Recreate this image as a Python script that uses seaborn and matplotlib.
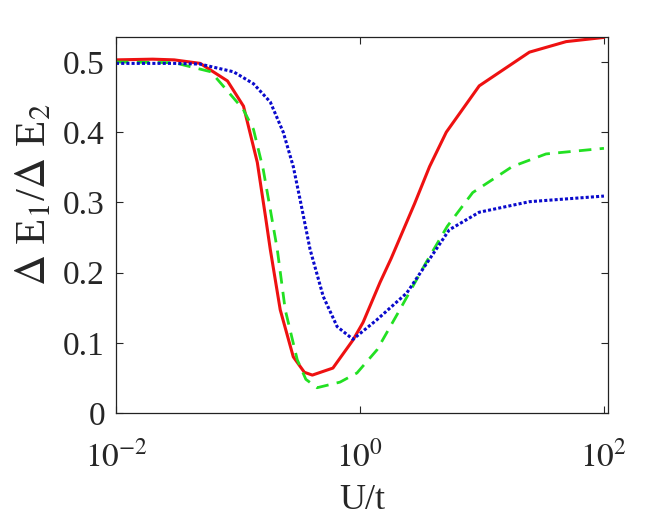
import matplotlib
matplotlib.use("Agg")
import matplotlib.pyplot as plt
import seaborn as sns
import pandas as pd

# ---- data ----
red_x = [0.01, 0.02, 0.03, 0.049, 0.082, 0.111, 0.144, 0.168, 0.184, 0.222, 0.284, 0.35, 0.407, 0.6, 0.877, 1.06, 1.46, 1.8, 2.8, 3.72, 5.1, 9.5, 24.5, 49, 100]
red_y = [0.503, 0.504, 0.503, 0.498, 0.473, 0.437, 0.357, 0.28, 0.233, 0.147, 0.08, 0.058, 0.054, 0.064, 0.104, 0.129, 0.186, 0.22, 0.298, 0.351, 0.40, 0.466, 0.514, 0.529, 0.535]

green_x = [0.01, 0.03, 0.06, 0.11, 0.134, 0.161, 0.184, 0.21, 0.244, 0.306, 0.36, 0.445, 0.687, 0.945, 1.38, 2.12, 3.5, 5.2, 8.4, 17.7, 33.5, 100]
green_y = [0.5, 0.499, 0.486, 0.433, 0.404, 0.347, 0.29, 0.233, 0.147, 0.076, 0.048, 0.036, 0.044, 0.057, 0.09, 0.147, 0.215, 0.266, 0.314, 0.351, 0.369, 0.377]

blue_x = [0.01, 0.03, 0.049, 0.092, 0.134, 0.184, 0.235, 0.284, 0.323, 0.39, 0.5, 0.65, 0.877, 1.38, 2.42, 3.95, 5.4, 9.5, 24.5, 100]
blue_y = [0.498, 0.498, 0.497, 0.486, 0.469, 0.443, 0.40, 0.351, 0.304, 0.233, 0.166, 0.123, 0.105, 0.133, 0.171, 0.226, 0.261, 0.286, 0.301, 0.309]

xticks = [1e-2, 1e0, 1e2]
xtick_labels = [r"$10^{-2}$", r"$10^{0}$", r"$10^{2}$"]
yticks = [0, 0.1, 0.2, 0.3, 0.4, 0.5]
ytick_labels = ["0", "0.1", "0.2", "0.3", "0.4", "0.5"]

sns.set_style("ticks")
plt.rcParams["font.family"] = ["Liberation Serif", "DejaVu Serif"]
plt.rcParams["mathtext.fontset"] = "stix"

fig = plt.figure(figsize=(6.72, 5.18), dpi=100)
ax = fig.add_axes([0.1726, 0.2027, 0.7322, 0.7259])

sns.lineplot(x=red_x, y=red_y, ax=ax, color="#ee1111", linewidth=2.2, linestyle="-")
sns.lineplot(x=green_x, y=green_y, ax=ax, color="#22e022", linewidth=2.0, dashes=False)
ax.lines[-1].set_dashes([4.5, 3])
sns.lineplot(x=blue_x, y=blue_y, ax=ax, color="#0a0acc", linewidth=2.2)
ax.lines[-1].set_dashes([1.0, 0.7])

ax.set_xscale("log")
ax.set_xlim(0.01, 108)
ax.set_ylim(0, 0.5356)
ax.set_xticks(xticks)
ax.set_xticklabels(xtick_labels)
ax.minorticks_off()
ax.set_yticks(yticks)
ax.set_yticklabels(ytick_labels)
ax.tick_params(direction="in", top=True, right=True, length=5, width=0.8, labelsize=24, pad=8)
ax.tick_params(axis="x", labelsize=24, pad=20)
for s in ax.spines.values():
    s.set_linewidth(0.9)
    s.set_color("#222222")

ax.set_xlabel("U/t", fontsize=26, labelpad=8)
ax.set_ylabel(r"$\Delta$ E$_1$/$\Delta$ E$_2$", fontsize=31)
ax.yaxis.set_label_coords(-0.125, 0.58)

fig.savefig("out.png", dpi=100, facecolor="white")
